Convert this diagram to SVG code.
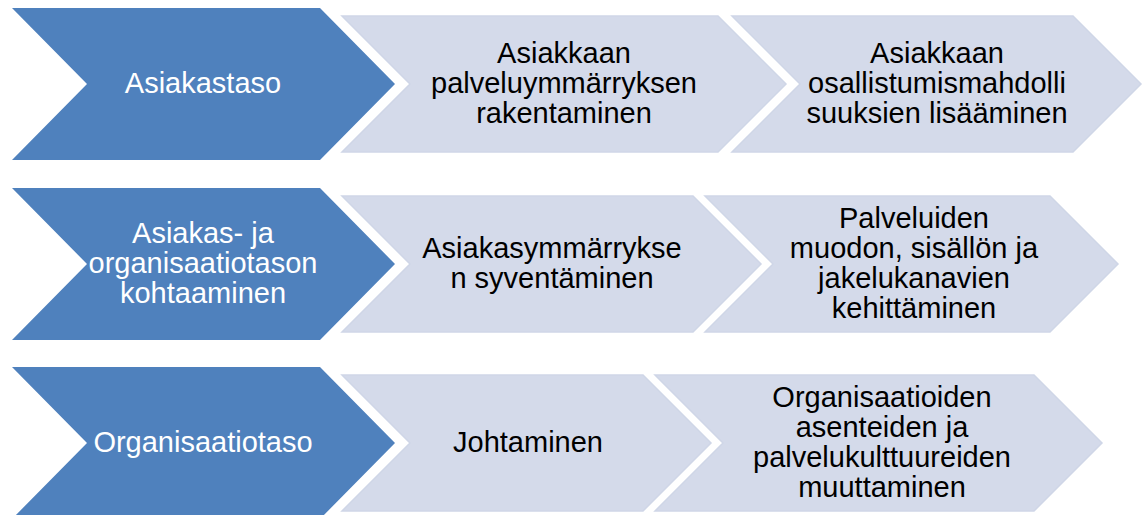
<svg xmlns="http://www.w3.org/2000/svg" width="1144" height="515" viewBox="0 0 1144 515">
<style>
.blue{fill:#4F81BD;}
.light{fill:#D4DAEA;stroke:#CFD6E7;stroke-width:1.5;stroke-linejoin:miter;}
text{font-family:"Liberation Sans",Arial,sans-serif;font-size:29px;text-anchor:middle;}
.w{fill:#FFFFFF;}
.k{fill:#000000;}
</style>
<rect width="1144" height="515" fill="#FFFFFF"/>
<g id="connectors"></g>
<!-- Row 1 -->
<g id="row1-c2">
<path class="light" d="M342,16 L718,16 L786,84 L718,152 L342,152 L410,84 Z"/>
<text class="k"><tspan x="564" y="63">Asiakkaan</tspan><tspan x="564" y="93">palveluymmärryksen</tspan><tspan x="564" y="123">rakentaminen</tspan></text>
</g>
<g id="row1-c3">
<path class="light" d="M732,16 L1073,16 L1141,84 L1073,152 L732,152 L800,84 Z"/>
<text class="k"><tspan x="937" y="63">Asiakkaan</tspan><tspan x="937" y="93">osallistumismahdolli</tspan><tspan x="937" y="123">suuksien lisääminen</tspan></text>
</g>
<g id="row1-c1">
<path class="blue" d="M12,8 L320,8 L395,84 L320,160 L12,160 L87,84 Z"/>
<text class="w" x="203" y="93">Asiakastaso</text>
</g>
<!-- Row 2 -->
<g id="row2-c2">
<path class="light" d="M342,196 L693,196 L761,264 L693,332 L342,332 L410,264 Z"/>
<text class="k"><tspan x="552" y="258">Asiakasymmärrykse</tspan><tspan x="552" y="288">n syventäminen</tspan></text>
</g>
<g id="row2-c3">
<path class="light" d="M705,196 L1050,196 L1118,264 L1050,332 L705,332 L773,264 Z"/>
<text class="k"><tspan x="914" y="228">Palveluiden</tspan><tspan x="914" y="258">muodon, sisällön ja</tspan><tspan x="914" y="288">jakelukanavien</tspan><tspan x="914" y="318">kehittäminen</tspan></text>
</g>
<g id="row2-c1">
<path class="blue" d="M12,188 L320,188 L395,264 L320,340 L12,340 L87,264 Z"/>
<text class="w"><tspan x="203" y="243">Asiakas- ja</tspan><tspan x="203" y="273">organisaatiotason</tspan><tspan x="203" y="303">kohtaaminen</tspan></text>
</g>
<!-- Row 3 -->
<g id="row3-c2">
<path class="light" d="M342,375 L643,375 L711,443 L643,511 L342,511 L410,443 Z"/>
<text class="k" x="528" y="452">Johtaminen</text>
</g>
<g id="row3-c3">
<path class="light" d="M655,375 L1034,375 L1102,443 L1034,511 L655,511 L723,443 Z"/>
<text class="k"><tspan x="882" y="407">Organisaatioiden</tspan><tspan x="882" y="437">asenteiden ja</tspan><tspan x="882" y="467">palvelukulttuureiden</tspan><tspan x="882" y="497">muuttaminen</tspan></text>
</g>
<g id="row3-c1">
<path class="blue" d="M12,367 L320,367 L395,443 L320,519 L12,519 L87,443 Z"/>
<text class="w" x="203" y="452">Organisaatiotaso</text>
</g>
</svg>
